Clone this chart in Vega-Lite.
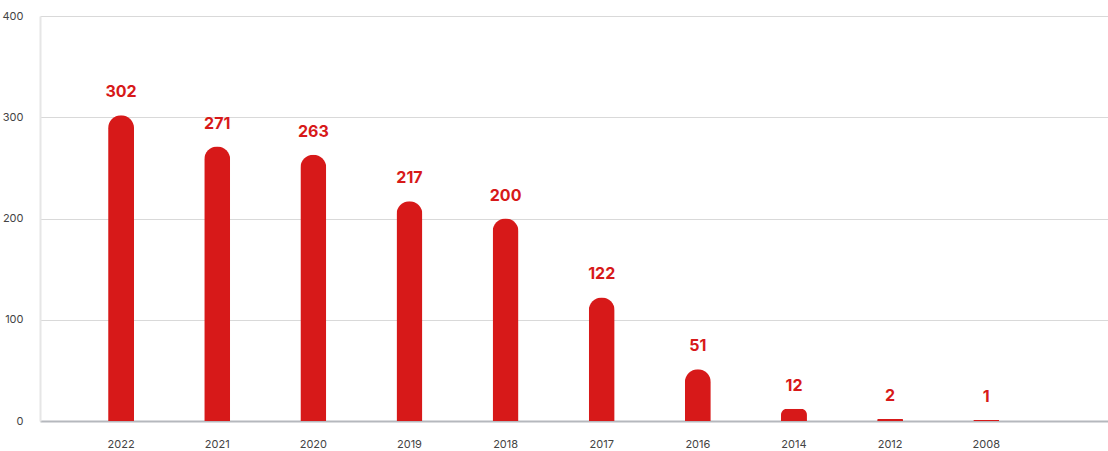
{
  "$schema": "https://vega.github.io/schema/vega-lite/v6.json",
  "width": 1108,
  "height": 451,
  "autosize": {"type": "fit", "contains": "padding"},
  "padding": {"left": 2, "top": 10, "right": 0, "bottom": 2},
  "background": "white",
  "config": {
    "view": {"stroke": null},
    "font": "Inter"
  },
  "data": {
    "values": [
      {"year": "2022", "count": 302},
      {"year": "2021", "count": 271},
      {"year": "2020", "count": 263},
      {"year": "2019", "count": 217},
      {"year": "2018", "count": 200},
      {"year": "2017", "count": 122},
      {"year": "2016", "count": 51},
      {"year": "2014", "count": 12},
      {"year": "2012", "count": 2},
      {"year": "2008", "count": 1}
    ]
  },
  "encoding": {
    "x": {
      "field": "year",
      "type": "nominal",
      "sort": null,
      "scale": {"paddingInner": 0.73, "paddingOuter": 0.92, "align": 0.385},
      "axis": {
        "title": null,
        "labelAngle": 0,
        "labelFontSize": 11,
        "labelColor": "#444444",
        "labelPadding": 17,
        "ticks": false,
        "domainColor": "#b5b8bd",
        "domainWidth": 2,
        "grid": false
      }
    },
    "y": {
      "field": "count",
      "type": "quantitative",
      "scale": {"domain": [0, 400]},
      "axis": {
        "title": null,
        "values": [0, 100, 200, 300, 400],
        "labelFontSize": 11,
        "labelColor": "#444444",
        "labelPadding": 17,
        "ticks": false,
        "domainColor": "#e6e6e6",
        "domainWidth": 2,
        "gridColor": "#d9d9d9",
        "gridWidth": 1
      }
    }
  },
  "layer": [
    {
      "mark": {
        "type": "bar",
        "color": "#d71919",
        "cornerRadiusTopLeft": 13,
        "cornerRadiusTopRight": 13
      }
    },
    {
      "mark": {
        "type": "text",
        "color": "#d71919",
        "fontSize": 16,
        "fontWeight": "bold",
        "baseline": "bottom",
        "dy": -15
      },
      "encoding": {"text": {"field": "count", "type": "quantitative"}}
    }
  ]
}
